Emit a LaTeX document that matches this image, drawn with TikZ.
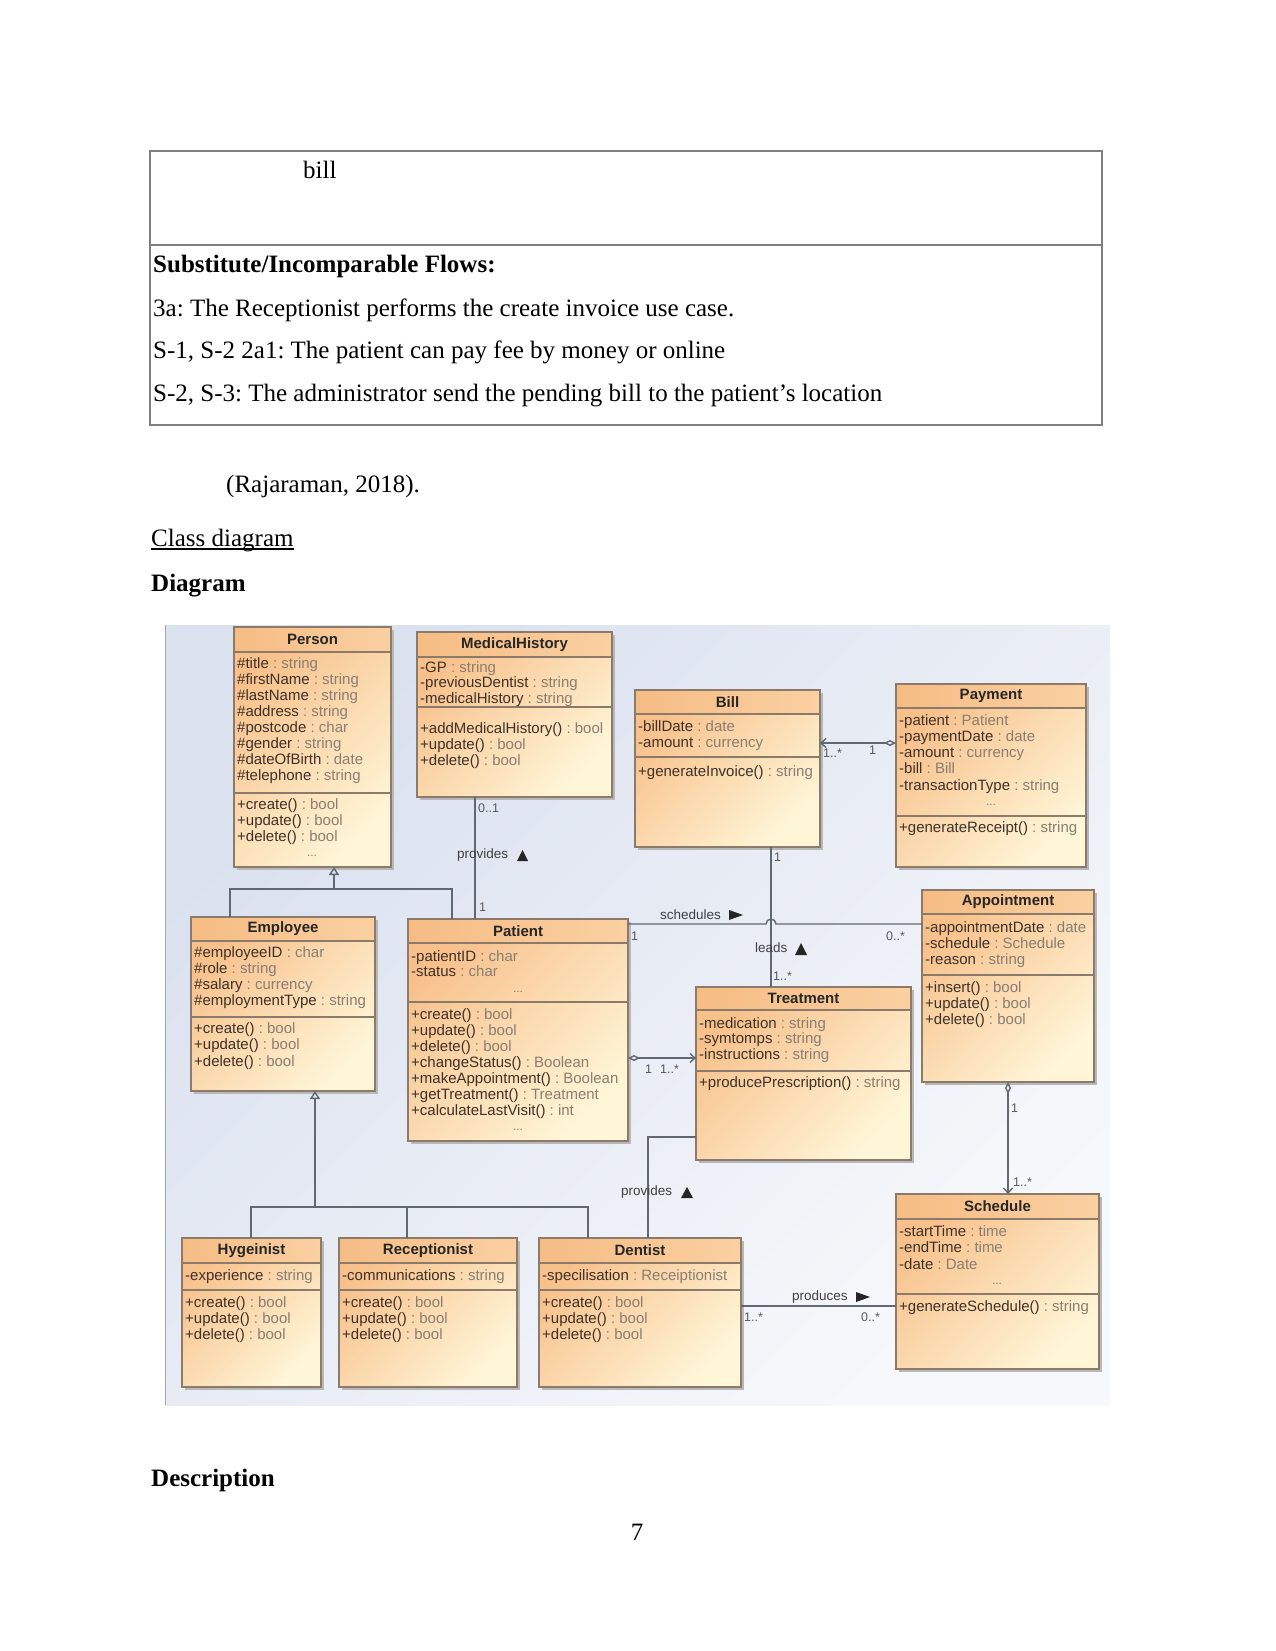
\documentclass[tikz,border=0pt]{standalone}
\usepackage{fontspec}
\setmainfont{Liberation Serif}
\newfontfamily\umlsans{Liberation Sans}
\usetikzlibrary{arrows.meta,calc}
\frenchspacing
\definecolor{boxA}{HTML}{F8C08A}
\definecolor{boxB}{HTML}{FFF6D8}
\definecolor{headA}{HTML}{F6BC84}
\definecolor{headB}{HTML}{FAD0A2}
\definecolor{boxln}{HTML}{8C7B6B}
\definecolor{nmc}{HTML}{3E3128}
\definecolor{tyc}{HTML}{8A7E72}
\definecolor{lnc}{HTML}{5F6873}
\definecolor{bgA}{HTML}{DAE1EF}
\definecolor{bgB}{HTML}{F7F8FB}
\definecolor{tblc}{HTML}{808080}
\newcommand\umlat[2]{\textcolor{nmc}{#1}\textcolor{tyc}{\ :\ #2}}
\tikzset{
  body/.style={font=\fontsize{25}{30}\selectfont\frenchspacing, inner sep=0, anchor=base west},
  classbox/.style={draw=none, inner sep=0, outer sep=0, top color=boxA, bottom color=boxB, shading angle=45},
  boxline/.style={draw=boxln, line width=1.3},
  umltitle/.style={font=\umlsans\bfseries\fontsize{15}{16}\selectfont, text=black!85, inner sep=0},
  umltxt/.style={font=\umlsans\fontsize{15}{16}\selectfont, inner sep=0, anchor=base west},
  umldots/.style={font=\umlsans\fontsize{12}{13}\selectfont, text=tyc, inner sep=0, anchor=base},
  conn/.style={draw=lnc, line width=1.4},
  lbl/.style={font=\umlsans\fontsize{13.5}{14}\selectfont, text=black!75, inner sep=0, anchor=west},
  mult/.style={font=\umlsans\fontsize{12.5}{13}\selectfont, text=black!65, inner sep=0, anchor=west},
  tri/.style={fill=black!85, draw=none},
  barb/.tip={Straight Barb[length=5pt,width=9pt]},
  dia/.tip={Diamond[open,length=12pt,width=6pt]},
  gentri/.tip={Triangle[open,length=8pt,width=10pt]}
}
\newcommand\umlclass[8]{%
  \fill[black!28] ({#2+3},{#3+3}) rectangle ({#4+3},{#5+3});
  \node[classbox, minimum width=#4-#2, minimum height=#5-#3, anchor=north west] (#1) at (#2,#3) {};
  \shade[left color=headA, right color=headB] (#2,#3) rectangle (#4,#6);
  \draw[boxline] (#2,#6) -- (#4,#6) (#2,#7) -- (#4,#7);
  \draw[boxline] (#1.north west) rectangle (#1.south east);
  \node[umltitle] (#1-t) at ({(#2+#4)/2},{(#3+#6)/2}) {#8};
}
\newcommand\umllines[5]{%
  \foreach \itm [count=\i] in {#5} {\node[umltxt] (#1\i) at (#2,{#3+(\i-1)*#4}) {\itm};}
}
\begin{document}
\begin{tikzpicture}[x=1pt,y=-1pt]
\useasboundingbox (0,0) rectangle (1275,1651);
\fill[white] (0,0) rectangle (1275,1651);

% ---- table ----
\draw[tblc, line width=2] (150,151) rectangle (1102,425);
\draw[tblc, line width=2] (150,245) -- (1102,245);
\node[body] (tbill) at (303,178) {bill};
\node[body] (tsub) at (153,272) {\bfseries Substitute/Incomparable Flows:};
\node[body] (t3a) at (153,316) {3a: The Receptionist performs the create invoice use case.};
\node[body] (ts1) at (153,358) {S-1, S-2 2a1: The patient can pay fee by money or online};
\node[body] (ts2) at (153,401) {S-2, S-3: The administrator send the pending bill to the patient’s location};

\node[body] (cite) at (226,492) {(Rajaraman, 2018).};
\node[body] (cd) at (151,546) {Class diagram};
\draw[line width=1.4] ([yshift=-3pt]cd.base west) -- ([yshift=-3pt]cd.base east);
\node[body] (dg) at (151,591) {\bfseries Diagram};
\node[body] (desc) at (151,1486) {\bfseries Description};
\node[body, anchor=base] (pg) at (637,1540) {7};

% ---- diagram background ----
\shade[top color=bgA, bottom color=bgB, shading angle=45] (165,625) rectangle (1110,1405);
\draw[black!35, line width=1] (165,625) -- (165,1405);

% ---- classes ----
\umlclass{person}{234}{627}{391}{867}{652}{793}{Person}
\umllines{pa}{237}{668}{16.1}{\umlat{\#title}{string},\umlat{\#firstName}{string},\umlat{\#lastName}{string},\umlat{\#address}{string},\umlat{\#postcode}{char},\umlat{\#gender}{string},\umlat{\#dateOfBirth}{date},\umlat{\#telephone}{string}}
\umllines{po}{237}{809}{16}{\umlat{+create()}{bool},\umlat{+update()}{bool},\umlat{+delete()}{bool}}
\node[umldots] (pd) at (312,856) {...};

\umlclass{mh}{417}{632}{612}{797}{657}{707}{MedicalHistory}
\umllines{ma}{420}{672}{15.5}{\umlat{-GP}{string},\umlat{-previousDentist}{string},\umlat{-medicalHistory}{string}}
\umllines{mo}{420}{733}{16}{\umlat{+addMedicalHistory()}{bool},\umlat{+update()}{bool},\umlat{+delete()}{bool}}

\umlclass{bill}{635}{690}{820}{847}{714}{757}{Bill}
\umllines{ba}{638}{731}{16}{\umlat{-billDate}{date},\umlat{-amount}{currency}}
\umllines{bo}{638}{776}{16}{\umlat{+generateInvoice()}{string}}

\umlclass{pay}{896}{684}{1086}{867}{708}{816}{Payment}
\umllines{ya}{899}{725}{16.25}{\umlat{-patient}{Patient},\umlat{-paymentDate}{date},\umlat{-amount}{currency},\umlat{-bill}{Bill},\umlat{-transactionType}{string}}
\node[umldots] (yd) at (991,805) {...};
\umllines{yo}{899}{832}{16}{\umlat{+generateReceipt()}{string}}

\umlclass{emp}{191}{917}{375}{1091}{941}{1017}{Employee}
\umllines{ea}{194}{957}{16.3}{\umlat{\#employeeID}{char},\umlat{\#role}{string},\umlat{\#salary}{currency},\umlat{\#employmentType}{string}}
\umllines{eo}{194}{1033}{16.5}{\umlat{+create()}{bool},\umlat{+update()}{bool},\umlat{+delete()}{bool}}

\umlclass{pat}{408}{919}{628}{1141}{943}{1002}{Patient}
\umllines{ta}{411}{961}{15}{\umlat{-patientID}{char},\umlat{-status}{char}}
\node[umldots] (tad) at (518,992) {...};
\umllines{to}{411}{1019}{16}{\umlat{+create()}{bool},\umlat{+update()}{bool},\umlat{+delete()}{bool},\umlat{+changeStatus()}{Boolean},\umlat{+makeAppointment()}{Boolean},\umlat{+getTreatment()}{Treatment},\umlat{+calculateLastVisit()}{int}}
\node[umldots] (tod) at (518,1130) {...};

\umlclass{treat}{696}{987}{911}{1160}{1010}{1071}{Treatment}
\umllines{ra}{699}{1028}{15.5}{\umlat{-medication}{string},\umlat{-symtomps}{string},\umlat{-instructions}{string}}
\umllines{ro}{699}{1087}{16}{\umlat{+producePrescription()}{string}}

\umlclass{app}{922}{890}{1094}{1082}{914}{975}{Appointment}
\umllines{aa}{925}{932}{16}{\umlat{-appointmentDate}{date},\umlat{-schedule}{Schedule},\umlat{-reason}{string}}
\umllines{ao}{925}{992}{16}{\umlat{+insert()}{bool},\umlat{+update()}{bool},\umlat{+delete()}{bool}}

\umlclass{sched}{896}{1194}{1099}{1369}{1219}{1294}{Schedule}
\umllines{sa}{899}{1236}{16.5}{\umlat{-startTime}{time},\umlat{-endTime}{time},\umlat{-date}{Date}}
\node[umldots] (sd) at (997,1284) {...};
\umllines{so}{899}{1311}{16}{\umlat{+generateSchedule()}{string}}

\umlclass{hyg}{182}{1238}{321}{1387}{1263}{1290}{Hygeinist}
\umllines{ha}{185}{1280}{16}{\umlat{-experience}{string}}
\umllines{ho}{185}{1307}{16}{\umlat{+create()}{bool},\umlat{+update()}{bool},\umlat{+delete()}{bool}}

\umlclass{rec}{339}{1238}{517}{1387}{1263}{1290}{Receptionist}
\umllines{ca}{342}{1280}{16}{\umlat{-communications}{string}}
\umllines{co}{342}{1307}{16}{\umlat{+create()}{bool},\umlat{+update()}{bool},\umlat{+delete()}{bool}}

\umlclass{den}{539}{1238}{741}{1387}{1263}{1290}{Dentist}
\umllines{da}{542}{1280}{16}{\umlat{-specilisation}{Receiptionist}}
\umllines{do}{542}{1307}{16}{\umlat{+create()}{bool},\umlat{+update()}{bool},\umlat{+delete()}{bool}}

% ---- connectors ----
% generalization Person
\coordinate (gP) at (334,889);
\coordinate (gE) at (230,889);
\coordinate (gT) at (452,889);
\draw[conn] (gE |- emp.north) -- (gE) -- (gT) -- (gT |- pat.north);
\draw[conn, -gentri] (gP) -- (gP |- person.south);
% generalization Employee
\coordinate (hH) at (251,1207);
\coordinate (hR) at (407,1207);
\coordinate (hD) at (588,1207);
\coordinate (hE) at (315,1207);
\draw[conn] (hH |- hyg.north) -- (hH) -- (hD) -- (hD |- den.north);
\draw[conn] (hR) -- (hR |- rec.north);
\draw[conn, -gentri] (hE) -- (hE |- emp.south);
% MedicalHistory - Patient
\coordinate (mp) at (475,0);
\draw[conn] (mp |- mh.south) -- (mp |- pat.north);
\node[mult] (m1) at (478,808) {0..1};
\node[mult] (m2) at (479,907) {1};
\node[lbl] (l1) at (457,855) {provides};
\fill[tri] (517,861) -- (528,861) -- (522.5,850) -- cycle;
% Bill - Payment
\coordinate (bp) at (0,743);
\draw[conn, barb-dia] (bill.east |- bp) -- (pay.west |- bp);
\node[mult] (m3) at (823,753) {1..*};
\node[mult] (m4) at (869,750) {1};
% Bill - Treatment
\coordinate (bt) at (771,0);
\draw[conn] (bt |- bill.south) -- (bt |- treat.north);
\node[mult] (m5) at (774,857) {1};
\node[lbl] (l2) at (755,948) {leads};
\fill[tri] (795,955) -- (807,955) -- (801,943) -- cycle;
\node[mult] (m6) at (773,976) {1..*};
% Patient - Appointment
\coordinate (pa) at (0,924);
\coordinate (hop) at (766,924);
\draw[conn] (pat.east |- pa) -- (hop) arc[start angle=180, end angle=360, radius=5] -- (app.west |- pa);
\node[lbl] (l3) at (660,915) {schedules};
\fill[tri] (729,910) -- (729,920) -- (743,915) -- cycle;
\node[mult] (m7) at (631,936) {1};
\node[mult] (m8) at (886,936) {0..*};
% Patient - Treatment
\coordinate (ptc) at (0,1058);
\draw[conn, dia-barb] (pat.east |- ptc) -- (treat.west |- ptc);
\node[mult] (m9) at (645,1069) {1};
\node[mult] (m10) at (660,1069) {1..*};
% Dentist - Treatment
\coordinate (dt) at (648,1137);
\draw[conn] (dt |- den.north) -- (dt) -- (treat.west |- dt);
\node[lbl] (l4) at (621,1192) {provides};
\fill[tri] (681,1198) -- (693,1198) -- (687,1187) -- cycle;
% Appointment - Schedule
\coordinate (as) at (1008,0);
\draw[conn, dia-barb] (as |- app.south) -- (as |- sched.north);
\node[mult] (m11) at (1011,1108) {1};
\node[mult] (m12) at (1013,1182) {1..*};
% Dentist - Schedule
\coordinate (ds) at (0,1306);
\draw[conn] (den.east |- ds) -- (sched.west |- ds);
\node[lbl] (l5) at (792,1297) {produces};
\fill[tri] (856,1292) -- (856,1302) -- (870,1297) -- cycle;
\node[mult] (m13) at (744,1317) {1..*};
\node[mult] (m14) at (861,1317) {0..*};
\end{tikzpicture}
\end{document}
